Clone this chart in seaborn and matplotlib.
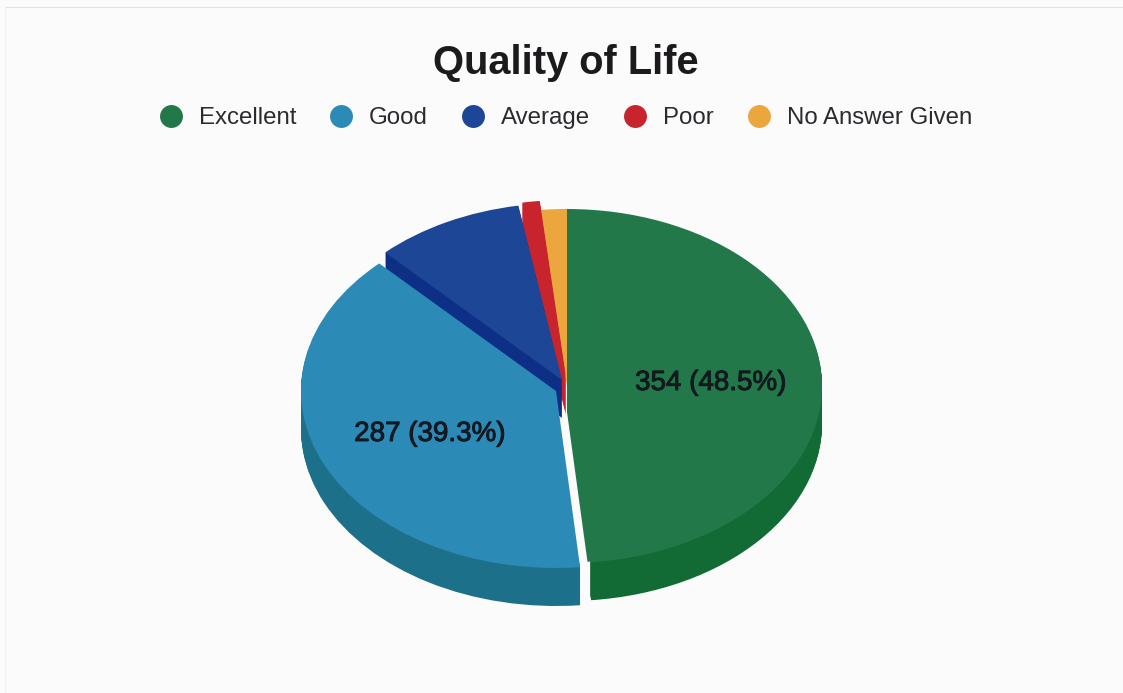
import matplotlib
matplotlib.use("Agg")
import matplotlib.pyplot as plt
import matplotlib.patheffects as pe
from matplotlib.lines import Line2D
import seaborn as sns

# data
categories = ["Excellent", "Good", "Average", "Poor", "No Answer Given"]
counts = [354, 287, 69, 8, 12]

top_colors = ["#23784a", "#2c8ab7", "#1d4697", "#c8242d", "#eca63e"]
side_colors = ["#126a34", "#1d7089", "#0e2f86", "#c8242d", "#d8922f"]

sns.set_theme(style="white")
plt.rcParams["font.family"] = ["Liberation Sans", "DejaVu Sans"]

W, H = 1123, 693
RX, RY = 255, 177  # top face of the pie, in pixels
DEPTH = 38
BG = "#fbfbfb"

fig = plt.figure(figsize=(W / 100, H / 100), dpi=100, facecolor=BG)
ax = fig.add_axes([0, 0, 1, 1])


def to_data(px, py):
    return px / RX, (H - py) / RY


def draw_slice(idx, px, py, color, width=None, radius=1):
    props = {"linewidth": 0}
    if width is not None:
        props["width"] = width
    wedges, _ = ax.pie(counts, colors=[color] * len(counts), startangle=90,
                       counterclock=False, center=to_data(px, py), radius=radius,
                       labeldistance=None, wedgeprops=props)
    for j, w in enumerate(wedges):
        if j != idx:
            w.remove()


def draw_side(idx, px, py, width=None):
    for d in range(DEPTH, 0, -1):
        draw_slice(idx, px, py + d, side_colors[idx], width)


# slice centres in pixels, the slices are pulled apart a little
centers = {0: (567, 386), 1: (556, 391), 2: (562, 380), 3: (566, 377), 4: (567, 386)}

# back to front
draw_side(3, *centers[3])
draw_side(2, *centers[2])
draw_slice(2, *centers[2], top_colors[2])
draw_slice(4, *centers[4], top_colors[4])
draw_slice(3, *centers[3], top_colors[3])
draw_side(0, *centers[0], width=0.03)
draw_slice(0, *centers[0], top_colors[0])
# the perspective of the original puts the tip of this slice lower down
draw_slice(0, 567, 412, top_colors[0], radius=0.85)
draw_side(1, *centers[1], width=0.03)
draw_slice(1, *centers[1], top_colors[1])

ax.set_aspect("auto")
ax.set_xlim(0, W / RX)
ax.set_ylim(0, H / RY)
ax.axis("off")

# value labels on the two big slices
total = sum(counts)
label_pos = {0: (711, 383), 1: (430, 434)}
for i, (lx, ly) in label_pos.items():
    x, y = to_data(lx, ly)
    ax.text(x, y, f"{counts[i]} ({counts[i] / total:.1%})", ha="center", va="center",
            fontsize=20, color="#14181f",
            path_effects=[pe.withStroke(linewidth=0.7, foreground="#14181f")])

fig.text(566 / W, 1 - 63 / H, "Quality of Life", ha="center", va="center",
         fontsize=28.7, fontweight="bold", color="#1c1a1c")

handles = [Line2D([], [], linestyle="none", marker="o", markersize=16.5,
                  markerfacecolor=c, markeredgewidth=0) for c in top_colors]
leg = fig.legend(handles, categories, ncol=5, loc="center",
                 bbox_to_anchor=(565.5 / W, 1 - 118 / H), frameon=False, fontsize=17.3,
                 handlelength=1, handletextpad=0.67, columnspacing=1.37, borderpad=0)
for t in leg.get_texts():
    t.set_color("#2b2a2e")

# faint frame of the original page
fig.add_artist(Line2D([5 / W, 1], [1 - 7 / H, 1 - 7 / H], color="#e2e2e2", linewidth=0.8))
fig.add_artist(Line2D([5 / W, 5 / W], [0, 1 - 7 / H], color="#f2f2f2", linewidth=0.8))

fig.savefig("out.png", dpi=100, facecolor=BG)
